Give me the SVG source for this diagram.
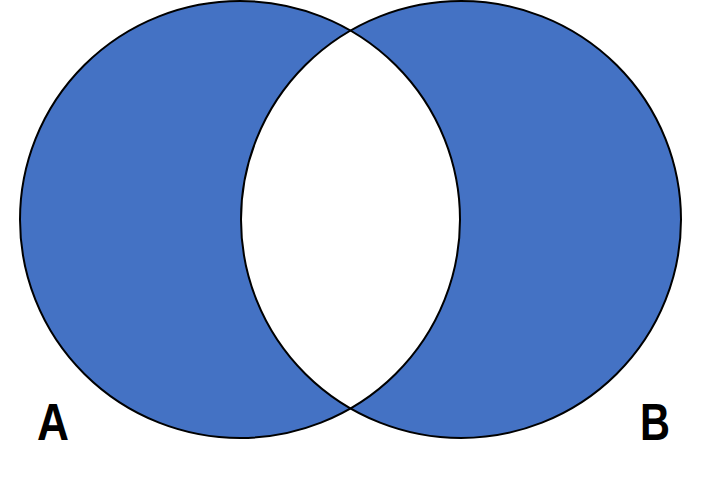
<svg xmlns="http://www.w3.org/2000/svg" width="707" height="489" viewBox="0 0 707 489">
<style>
.venn{fill:#4472C4;fill-rule:evenodd;stroke:none}
.outline{fill:none;stroke:#000;stroke-width:2}
.lbl{font-family:"Liberation Sans",Arial,sans-serif;font-weight:bold;font-size:52px;fill:#000}
</style>
<rect width="707" height="489" fill="#fff"/>
<g id="fill">
<path class="venn" d="M20,219.5 A220,218.5 0 1,0 460,219.5 A220,218.5 0 1,0 20,219.5 Z M241,219.5 A220,218.5 0 1,0 681,219.5 A220,218.5 0 1,0 241,219.5 Z"/>
</g>
<g id="setA">
<ellipse class="outline" cx="240" cy="219.5" rx="220" ry="218.5"/>
<text class="lbl" x="37" y="440" textLength="32" lengthAdjust="spacingAndGlyphs">A</text>
</g>
<g id="setB">
<ellipse class="outline" cx="461" cy="219.5" rx="220" ry="218.5"/>
<text class="lbl" x="640" y="440" textLength="30" lengthAdjust="spacingAndGlyphs">B</text>
</g>
<g id="connectors"></g>
</svg>
